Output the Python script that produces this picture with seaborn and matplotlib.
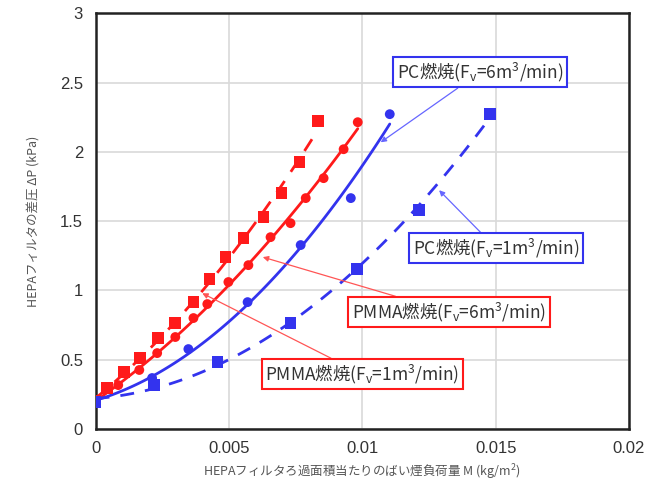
import matplotlib
matplotlib.use("Agg")
import matplotlib.pyplot as plt
import seaborn as sns
import numpy as np
import pandas as pd

# ---- data ----
pmma1_M = [0.0, 0.00043, 0.00107, 0.00167, 0.00235, 0.00299, 0.00367, 0.00427,
           0.00487, 0.00555, 0.0063, 0.00697, 0.00765, 0.00833]
pmma1_P = [0.20, 0.296, 0.411, 0.512, 0.657, 0.765, 0.916, 1.082,
           1.241, 1.378, 1.530, 1.703, 1.926, 2.222]

pmma6_M = [0.0, 0.00085, 0.00164, 0.00231, 0.00299, 0.00367, 0.00419, 0.00498,
           0.00573, 0.00656, 0.00731, 0.00788, 0.00855, 0.0093, 0.00983]
pmma6_P = [0.20, 0.317, 0.426, 0.548, 0.664, 0.801, 0.902, 1.061,
           1.183, 1.385, 1.486, 1.667, 1.811, 2.020, 2.215]

pc6_M = [0.0, 0.00212, 0.00348, 0.0057, 0.00769, 0.00957, 0.01103]
pc6_P = [0.195, 0.368, 0.577, 0.916, 1.328, 1.667, 2.273]

pc1_M = [0.0, 0.0022, 0.00457, 0.00731, 0.0098, 0.01212, 0.01479]
pc1_P = [0.195, 0.317, 0.483, 0.765, 1.154, 1.58, 2.273]

x_ticks = [0, 0.005, 0.01, 0.015, 0.02]
x_tick_labels = ["0", "0.005", "0.01", "0.015", "0.02"]
y_ticks = [0, 0.5, 1, 1.5, 2, 2.5, 3]
y_tick_labels = ["0", "0.5", "1", "1.5", "2", "2.5", "3"]

RED = "#ff1a1a"
BLUE = "#3333ee"

sns.set_style("white")
plt.rcParams['font.family'] = ['Liberation Sans', 'Noto Sans CJK JP', 'DejaVu Sans']
plt.rcParams['mathtext.fontset'] = 'custom'
plt.rcParams['mathtext.rm'] = 'Liberation Sans'

fig = plt.figure(figsize=(6.59, 4.90), dpi=100)
ax = fig.add_axes([0.145, 0.1245, 0.8095, 0.848])

series = [
    (pmma1_M, pmma1_P, RED, "s", 70, (0, (5, 4))),
    (pmma6_M, pmma6_P, RED, "o", 50, "-"),
    (pc6_M, pc6_P, BLUE, "o", 50, "-"),
    (pc1_M, pc1_P, BLUE, "s", 70, (0, (5, 4))),
]
for M, P, c, mk, s, ls in series:
    df = pd.DataFrame({"M": M, "P": P})
    sns.regplot(data=df, x="M", y="P", order=2, ci=None, scatter=False,
                truncate=True, ax=ax, color=c,
                line_kws=dict(linestyle=ls, linewidth=2.0, zorder=3))
    sns.scatterplot(data=df, x="M", y="P", ax=ax, color=c, marker=mk, s=s,
                    edgecolor="none", zorder=4)

ax.set_xlim(0, 0.02)
ax.set_ylim(0, 3)
ax.set_xticks(x_ticks)
ax.set_xticklabels(x_tick_labels)
ax.set_yticks(y_ticks)
ax.set_yticklabels(y_tick_labels)
ax.grid(True, color="#d9d9d9", linewidth=1.2)
ax.set_axisbelow(True)
for sp in ax.spines.values():
    sp.set_color("#222222")
    sp.set_linewidth(1.8)
ax.tick_params(direction="in", length=5, width=1.2, labelsize=12,
               colors="#222222", pad=9)
for lbl in ax.get_xticklabels() + ax.get_yticklabels():
    lbl.set_color("#333333")

jp = ['Noto Sans CJK JP', 'DejaVu Sans']
ax.set_xlabel("HEPAフィルタろ過面積当たりのばい煙負荷量 M (kg/m$^\\mathregular{2}$)",
              fontsize=9, color="#555555", family=jp, labelpad=4)
ax.set_ylabel("HEPAフィルタの差圧 ΔP (kPa)", fontsize=9, color="#555555",
              family=jp, labelpad=14)

def label(text, xy, xytext, c, ac):
    ax.annotate(text, xy=xy, xytext=xytext, textcoords="data",
                fontsize=12.5, color="#333333", ha="center", va="center",
                family=jp,
                bbox=dict(boxstyle="square,pad=0.2", fc="white", ec=c, lw=1.5),
                arrowprops=dict(arrowstyle="-|>", color=ac, lw=0.9,
                                mutation_scale=8, shrinkA=0, shrinkB=0),
                zorder=6)

label("PC燃焼(F$_\\mathregular{v}$=6m$^\\mathregular{3}$/min)",
      (0.01069, 2.07), (0.01442, 2.575), BLUE, "#6666ff")
label("PC燃焼(F$_\\mathregular{v}$=1m$^\\mathregular{3}$/min)",
      (0.01288, 1.724), (0.01502, 1.305), BLUE, "#6666ff")
label("PMMA燃焼(F$_\\mathregular{v}$=6m$^\\mathregular{3}$/min)",
      (0.00627, 1.241), (0.01325, 0.844), RED, "#ff5555")
label("PMMA燃焼(F$_\\mathregular{v}$=1m$^\\mathregular{3}$/min)",
      (0.00400, 0.98), (0.01, 0.397), RED, "#ff5555")

fig.savefig("out.png", dpi=100)
